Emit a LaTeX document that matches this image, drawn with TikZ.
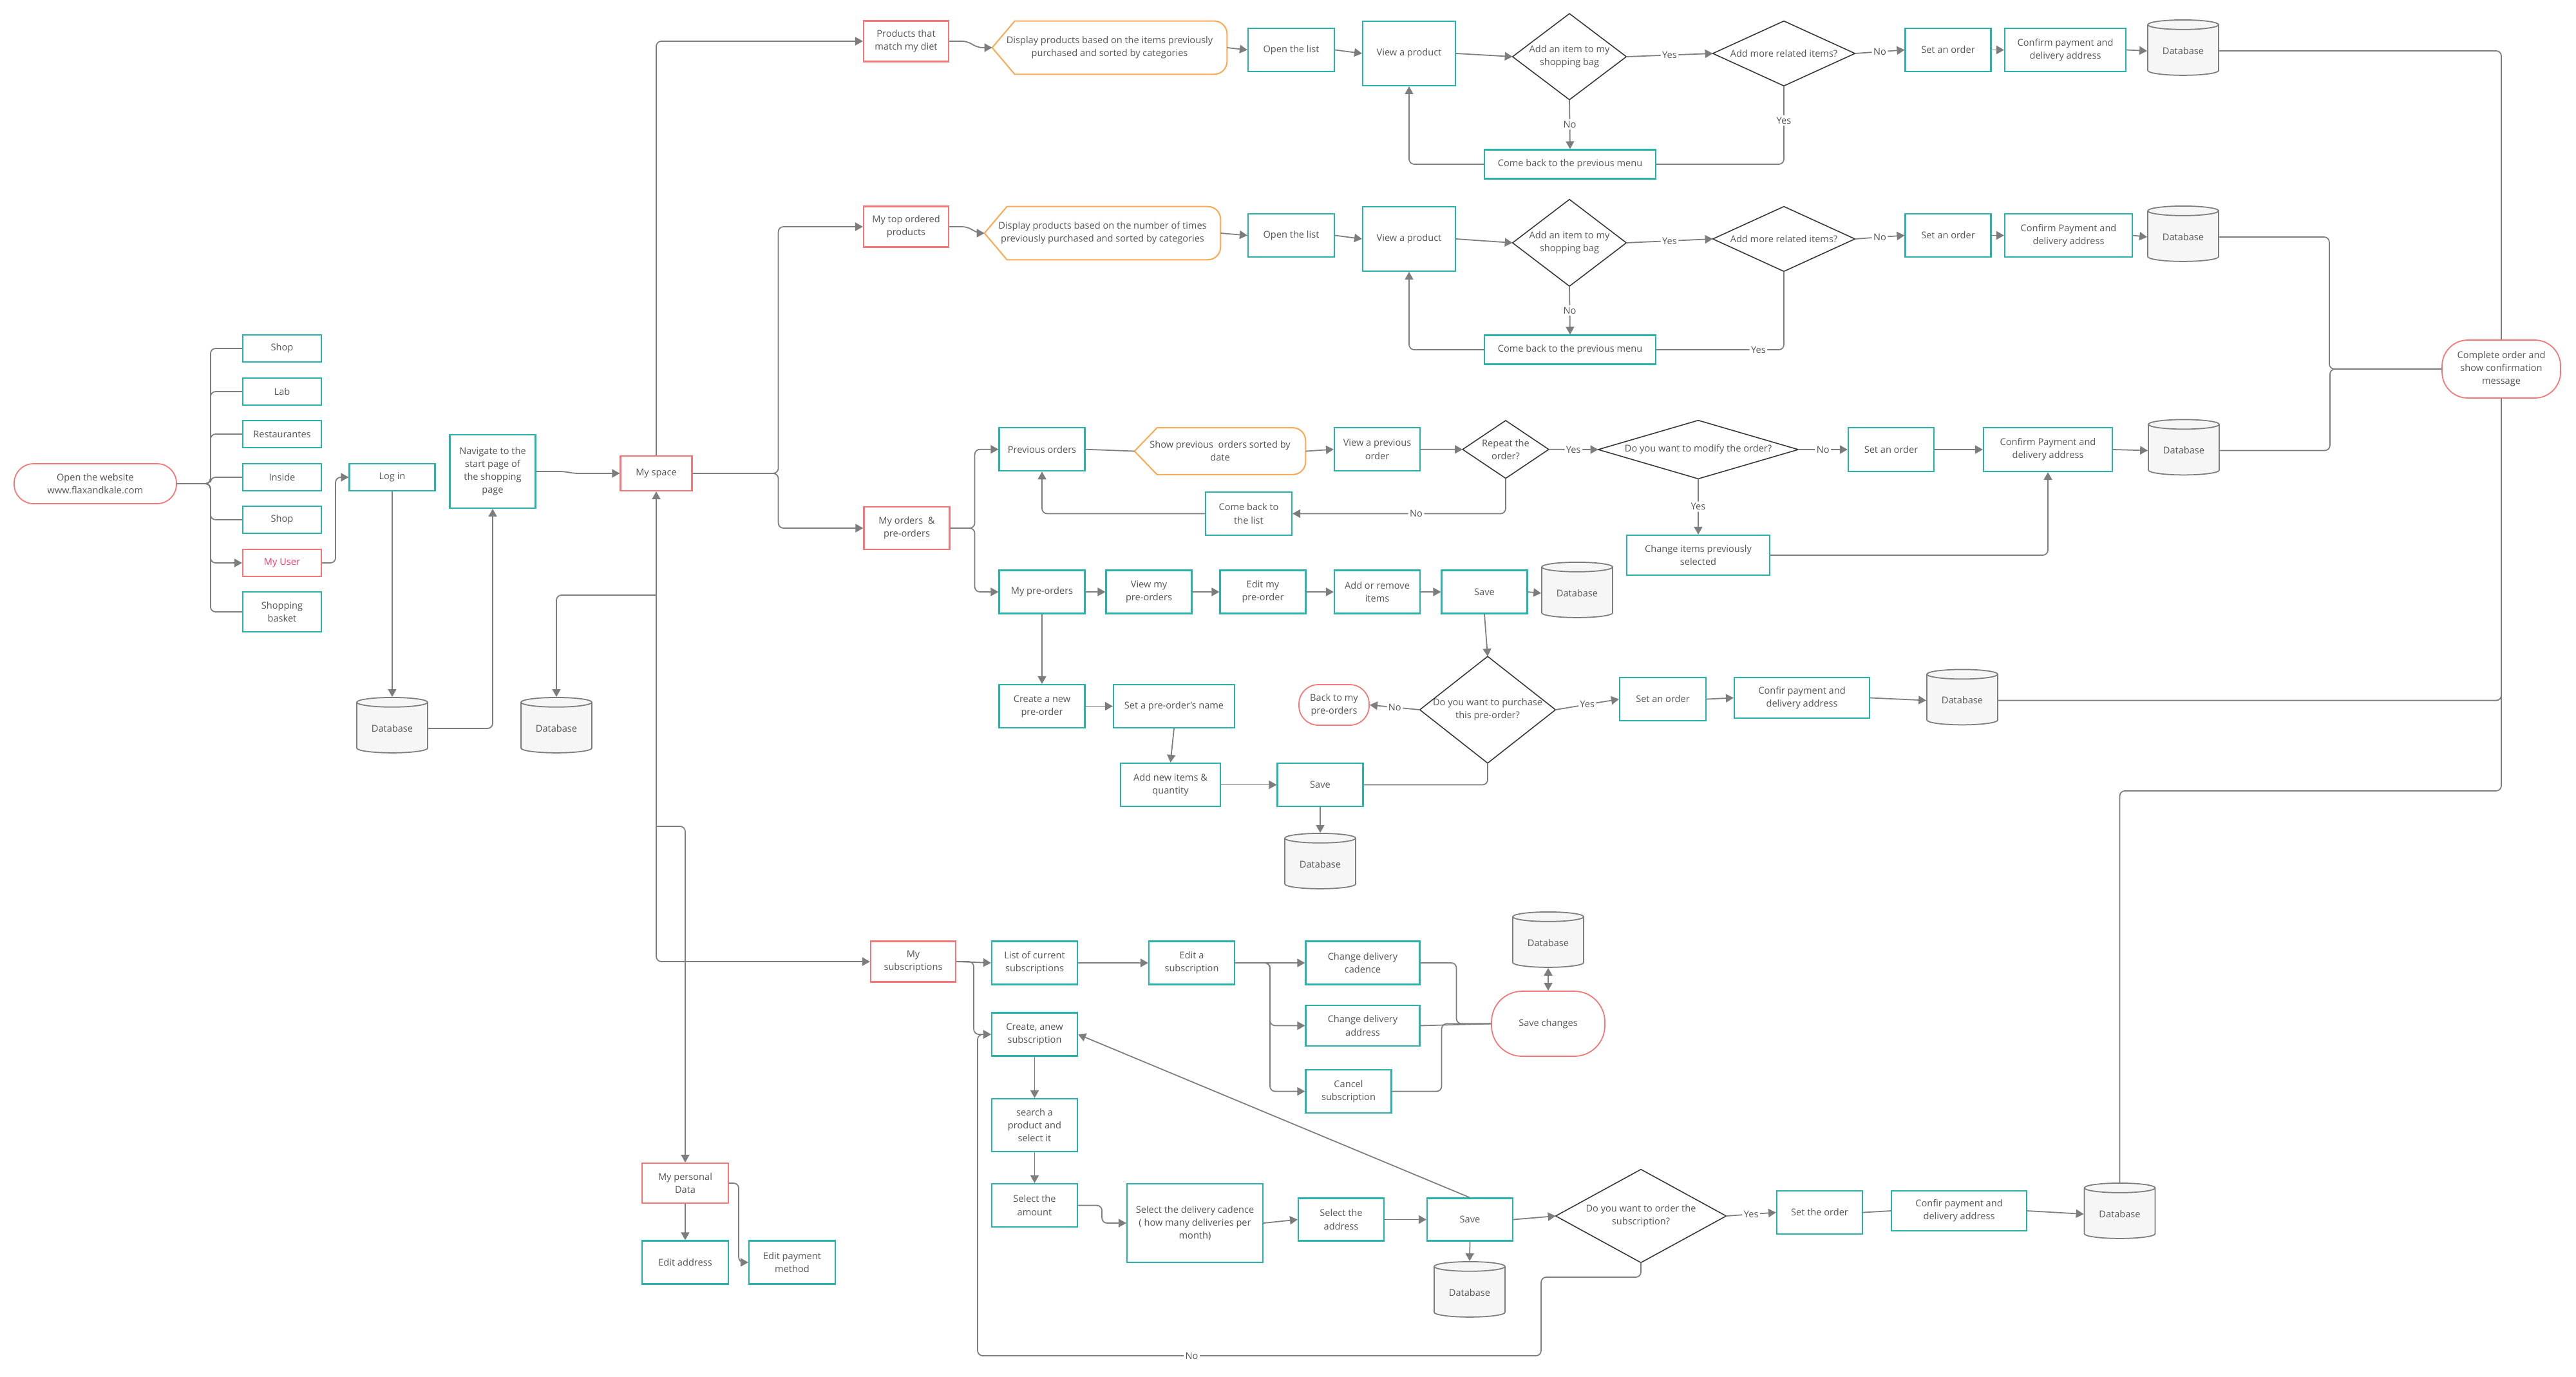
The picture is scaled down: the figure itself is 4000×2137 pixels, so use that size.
\documentclass[tikz,border=0pt]{standalone}
\usepackage{fontspec}
\setmainfont{Open Sans}
\usetikzlibrary{shapes.geometric,arrows.meta}

\definecolor{flteal}{RGB}{41,178,172}
\definecolor{flred}{RGB}{244,118,118}
\definecolor{flpink}{RGB}{240,60,110}
\definecolor{florange}{RGB}{248,172,90}
\definecolor{flgray}{RGB}{125,125,125}
\definecolor{fltext}{RGB}{85,85,85}
\definecolor{fldark}{RGB}{55,55,55}
\definecolor{fldb}{RGB}{246,246,246}

\tikzset{
  wh/.style 2 args={minimum width=#1*0.2mm, minimum height=#2*0.2mm}
}

\begin{document}
\begin{tikzpicture}[
  x=0.2mm, y=-0.2mm,
  >={Triangle[length=2.4mm,width=2.6mm]},
  base/.style={inner sep=1pt, align=center, text=fltext, font=\fontsize{8.3}{11.4}\selectfont},
  box/.style={base, draw=flteal, line width=1.2pt, wh={133}{67}},
  rbox/.style={base, draw=flred, line width=1.2pt},
  term/.style={base, draw=flred, line width=1pt},
  db/.style={base, cylinder, shape border rotate=90, aspect=0.22, draw=flgray, fill=fldb, line width=1pt, wh={110}{86}},
  conn/.style={draw=flgray, line width=1pt, rounded corners=1.6mm},
  arr/.style={conn, ->},
  lbl/.style={base, fill=white, inner sep=1.5pt}
]
  \useasboundingbox[fill=white] (0,0) rectangle (4000,2137);

  % entry and main menu
  \node[term, rounded corners=6mm, wh={252}{62}] (web) at (148,751) {Open the website\\www.flaxandkale.com};
  \node[box, wh={122}{42}] (shopA) at (438,541) {Shop};
  \node[box, wh={122}{42}] (lab) at (438,608) {Lab};
  \node[box, wh={122}{42}] (resto) at (438,674) {Restaurantes};
  \node[box, wh={122}{42}] (inside) at (438,741) {Inside};
  \node[box, wh={122}{42}] (shopB) at (438,807) {Shop};
  \node[rbox, text=flpink, wh={122}{42}] (myuser) at (438,874) {My User};
  \node[box, wh={122}{62}] (basket) at (438,950) {Shopping\\basket};
  \node[box, wh={133}{42}] (login) at (609,741) {Log in};
  \node[db] (dbA) at (609,1131) {Database};
  \node[box, wh={133}{114}] (nav) at (765,732) {Navigate to the\\start page of\\the shopping\\page};
  \node[rbox, wh={111}{54}] (myspace) at (1019,735) {My space};
  \node[db] (dbB) at (864,1131) {Database};

  % products that match my diet
  \node[rbox, wh={132}{63}] (diet) at (1407,64) {Products that\\match my diet};
  \node[base, wh={364}{82}] (disp1) at (1723,74) {Display products based on the items previously\\purchased and sorted by categories};
  \node[box, wh={134}{67}] (open1) at (2005,77.5) {Open the list};
  \node[box, wh={144}{100}] (view1) at (2188,83) {View a product};
  \node[base, wh={176}{133}] (add1) at (2437,88) {Add an item to my\\shopping bag};
  \node[base, wh={220}{100}] (more1) at (2770,83) {Add more related items?};
  \node[box] (set1) at (3025,77.5) {Set an order};
  \node[box, wh={188}{67}] (conf1) at (3207,77.5) {Confirm payment and\\delivery address};
  \node[db] (db1) at (3390,79) {Database};
  \node[box, wh={266}{45}] (back1) at (2438,255) {Come back to the previous menu};

  % my top ordered products
  \node[rbox, wh={132}{63}] (top) at (1407,352) {My top ordered\\products};
  \node[base, wh={366}{82}] (disp2) at (1712,362) {Display products based on the number of times\\previously purchased and sorted by categories};
  \node[box, wh={134}{67}] (open2) at (2005,365.5) {Open the list};
  \node[box, wh={144}{100}] (view2) at (2188,371) {View a product};
  \node[base, wh={176}{134}] (add2) at (2437,377) {Add an item to my\\shopping bag};
  \node[base, wh={220}{100}] (more2) at (2770,371) {Add more related items?};
  \node[box] (set2) at (3025,365.5) {Set an order};
  \node[box, wh={198}{67}] (conf2) at (3212,365.5) {Confirm Payment and\\delivery address};
  \node[db] (db2) at (3390,368) {Database};
  \node[box, wh={266}{45}] (back2) at (2438,543) {Come back to the previous menu};
  \node[term, rounded corners=8mm, wh={184}{90}] (done) at (3884,573) {Complete order and\\show confirmation\\message};

  % my orders and pre-orders
  \node[rbox, wh={133}{66}] (orders) at (1408,820) {My orders~~\&\\pre-orders};
  \node[box] (prev) at (1618,697.7) {Previous orders};
  \node[base, wh={265}{72}] (showprev) at (1894.5,700.5) {Show previous~~orders sorted by\\date};
  \node[box] (viewprev) at (2138.5,697.7) {View a previous\\order};
  \node[base, wh={133}{89}] (repeat) at (2338,697.8) {Repeat the\\order?};
  \node[base, wh={310}{90}] (modify) at (2637,698) {Do you want to modify the order?};
  \node[box, wh={133}{68}] (set3) at (2936.5,698) {Set an order};
  \node[box, wh={200}{68}] (conf3) at (3180,698) {Confirm Payment and\\delivery address};
  \node[db] (db3) at (3391,699.5) {Database};
  \node[box, wh={222}{62}] (change) at (2637,862) {Change items previously\\selected};
  \node[box, wh={134}{67}] (backlist) at (1939,797.5) {Come back to\\the list};

  \node[box] (mypre) at (1618,919) {My pre-orders};
  \node[box] (viewpre) at (1784,919) {View my\\pre-orders};
  \node[box] (editpre) at (1961,919) {Edit my\\pre-order};
  \node[box] (addrem) at (2138.5,919) {Add or remove\\items};
  \node[box] (savepre) at (2305,919) {Save};
  \node[db] (dbpre) at (2449,921) {Database};
  \node[box] (newpre) at (1618,1096.5) {Create a new\\pre-order};
  \node[box, wh={188}{67}] (namepre) at (1823,1096.5) {Set a pre-order's name};
  \node[box, wh={155}{67}] (additems) at (1817.5,1218.5) {Add new items \&\\quantity};
  \node[box] (savenew) at (2050,1218.5) {Save};
  \node[db] (dbnew) at (2050,1342) {Database};
  \node[base, wh={210}{165}] (purchase) at (2310,1102) {Do you want to purchase\\this pre-order?};
  \node[term, rounded corners=6mm, wh={109}{63}] (backpre) at (2071.5,1094.5) {Back to my\\pre-orders};
  \node[box, wh={134}{67}] (set4) at (2582,1085.5) {Set an order};
  \node[box, wh={210}{63}] (conf4) at (2798,1083.5) {Confir payment and\\delivery address};
  \node[db] (db4) at (3047,1087.5) {Database};

  % my subscriptions
  \node[rbox, wh={132}{63}] (subs) at (1418,1493) {My\\subscriptions};
  \node[box] (listsub) at (1606.5,1495) {List of current\\subscriptions};
  \node[box] (editsub) at (1850.5,1495) {Edit a\\subscription};
  \node[box, wh={177}{67}] (cadence) at (2116,1495) {Change delivery\\cadence};
  \node[box, wh={177}{63}] (address) at (2116,1592.5) {Change delivery\\address};
  \node[box] (cancel) at (2094,1694.5) {Cancel\\subscription};
  \node[term, rounded corners=9.5mm, wh={176}{101}] (savech) at (2404,1589.5) {Save changes};
  \node[db] (dbch) at (2404,1464) {Database};
  \node[box] (newsub) at (1606.5,1606) {Create, anew\\subscription};
  \node[box, wh={133}{82}] (search) at (1606.5,1747) {search a\\product and\\select it};
  \node[box] (amount) at (1606.5,1871.5) {Select the\\amount};
  \node[box, wh={211}{122}] (cadsel) at (1855.5,1899) {Select the delivery cadence\\( how many deliveries per\\month)};
  \node[box, wh={133}{66}] (addrsel) at (2082.5,1893.5) {Select the\\address};
  \node[box, wh={133}{66}] (savesub) at (2282.5,1893.5) {Save};
  \node[db] (dbsub) at (2282,2007) {Database};
  \node[base, wh={264}{144}] (ordersub) at (2548,1888) {Do you want to order the\\subscription?};
  \node[box] (setsub) at (2825.5,1882.5) {Set the order};
  \node[box, wh={210}{62}] (confsub) at (3042,1880) {Confir payment and\\delivery address};
  \node[db] (dbfin) at (3291.5,1885) {Database};

  % my personal data
  \node[rbox, wh={134}{62}] (personal) at (1064,1837) {My personal\\Data};
  \node[box, wh={134}{67}] (editaddr) at (1064,1960) {Edit address};
  \node[box, wh={134}{67}] (editpay) at (1230,1960) {Edit payment\\method};

  % outlines of decisions and displays
  \foreach \d in {add1,more1,add2,more2,repeat,modify,purchase,ordersub}
    \draw[fldark, line width=0.9pt] (\d.north) -- (\d.east) -- (\d.south) -- (\d.west) -- cycle;
  \foreach \h in {disp1,disp2,showprev}
    \draw[florange, line width=1.2pt] ([xshift=7mm]\h.north west) -- (\h.west) -- ([xshift=7mm]\h.south west)
      -- ([xshift=-4mm]\h.south east) arc[start angle=270, end angle=360, radius=4mm]
      -- ([yshift=-4mm]\h.north east) arc[start angle=0, end angle=90, radius=4mm] -- cycle;

  \coordinate (jdb) at (1019,924);
  \coordinate (jpers) at (1019,1283);
  \coordinate (noA) at (2393,1983);
  \coordinate (noB) at (1518,2105);

  % website menu
  \draw[conn] (web.east) -- ++(52,0) |- (shopA.west);
  \draw[conn] (web.east) -- ++(52,0) |- (lab.west);
  \draw[conn] (web.east) -- ++(52,0) |- (resto.west);
  \draw[conn] (web.east) -- ++(52,0) |- (inside.west);
  \draw[conn] (web.east) -- ++(52,0) |- (shopB.west);
  \draw[conn] (web.east) -- ++(52,0) |- (basket.west);
  \draw[arr] (web.east) -- ++(52,0) |- (myuser.west);
  \draw[arr] (myuser.east) -- ++(21,0) |- (login.west);
  \draw[arr] (login.south) -- (dbA.north);
  \draw[arr] (dbA.east) -| (nav.south);
  \draw[arr] (nav.east) -- ++(45,0) -- ++(12,3) -- (myspace.west);
  \draw[arr] (myspace.north) |- (diet.west);
  \draw[arr] (myspace.east) -- ++(133,0) |- (top.west);
  \draw[arr] (myspace.east) -- ++(133,0) |- (orders.west);
  \draw[<->, conn] (myspace.south) |- (subs.west);
  \draw[arr] (jdb) -| (dbB.north);
  \draw[arr] (jpers) -| (personal.north);
  \draw[arr] (personal.south) -- (editaddr.north);
  \draw[arr] (personal.east) -- ++(15,0) |- (editpay.west);

  % diet row
  \draw[arr] (diet.east) -- ++(28,0) -- ++(16,10) -- (disp1.west);
  \draw[arr] (disp1.east) -- (open1.west);
  \draw[arr] (open1.east) -- (view1.west);
  \draw[arr] (view1.east) -- (add1.west);
  \draw[arr] (add1.east) -- node[lbl]{Yes} (more1.west);
  \draw[arr] (more1.east) -- node[lbl]{No} (set1.west);
  \draw[arr] (set1.east) -- (conf1.west);
  \draw[arr] (conf1.east) -- (db1.west);
  \draw[arr] (add1.south) -- node[lbl]{No} (back1.north);
  \draw[conn] (more1.south) |- node[lbl,pos=0.22]{Yes} (back1.east);
  \draw[arr] (back1.west) -| (view1.south);
  \draw[conn] (db1.east) -| (done.north);

  % top ordered row
  \draw[arr] (top.east) -- ++(28,0) -- ++(16,10) -- (disp2.west);
  \draw[arr] (disp2.east) -- (open2.west);
  \draw[arr] (open2.east) -- (view2.west);
  \draw[arr] (view2.east) -- (add2.west);
  \draw[arr] (add2.east) -- node[lbl]{Yes} (more2.west);
  \draw[arr] (more2.east) -- node[lbl]{No} (set2.west);
  \draw[arr] (set2.east) -- (conf2.west);
  \draw[arr] (conf2.east) -- (db2.west);
  \draw[arr] (add2.south) -- node[lbl]{No} (back2.north);
  \draw[conn] (more2.south) |- node[lbl,pos=0.6]{Yes} (back2.east);
  \draw[arr] (back2.west) -| (view2.south);
  \draw[conn] (db2.east) -- ++(171,0) |- (done.west);

  % previous orders
  \draw[arr] (orders.east) -- ++(38,0) |- (prev.west);
  \draw[arr] (orders.east) -- ++(38,0) |- (mypre.west);
  \draw[conn] (prev.east) -- (showprev.west);
  \draw[arr] (showprev.east) -- (viewprev.west);
  \draw[arr] (viewprev.east) -- (repeat.west);
  \draw[arr] (repeat.east) -- node[lbl]{Yes} (modify.west);
  \draw[arr] (modify.east) -- node[lbl]{No} (set3.west);
  \draw[arr] (set3.east) -- (conf3.west);
  \draw[arr] (conf3.east) -- (db3.west);
  \draw[arr] (modify.south) -- node[lbl]{Yes} (change.north);
  \draw[arr] (change.east) -| (conf3.south);
  \draw[arr] (repeat.south) |- node[lbl,pos=0.71]{No} (backlist.east);
  \draw[arr] (backlist.west) -| (prev.south);
  \draw[conn] (db3.east) -- ++(171,0) |- (done.west);

  % pre-orders
  \draw[arr] (mypre.east) -- (viewpre.west);
  \draw[arr] (viewpre.east) -- (editpre.west);
  \draw[arr] (editpre.east) -- (addrem.west);
  \draw[arr] (addrem.east) -- (savepre.west);
  \draw[arr] (savepre.east) -- (dbpre.west);
  \draw[arr] (mypre.south) -- (newpre.north);
  \draw[arr] (newpre.east) -- (namepre.west);
  \draw[arr] (namepre.south) -- (additems.north);
  \draw[arr] (additems.east) -- (savenew.west);
  \draw[arr] (savenew.south) -- (dbnew.north);
  \draw[arr] (savepre.south) -- (purchase.north);
  \draw[conn] (purchase.south) |- (savenew.east);
  \draw[arr] (purchase.west) -- node[lbl]{No} (backpre.east);
  \draw[arr] (purchase.east) -- node[lbl]{Yes} (set4.west);
  \draw[arr] (set4.east) -- (conf4.west);
  \draw[arr] (conf4.east) -- (db4.west);
  \draw[conn] (db4.east) -| (done.south);
  \draw[conn] (done.south) -- ++(0,609) -| (dbfin.north);

  % subscriptions
  \draw[arr] (subs.east) -- (listsub.west);
  \draw[arr] (subs.east) -- ++(27,0) |- (newsub.west);
  \draw[arr] (listsub.east) -- (editsub.west);
  \draw[arr] (editsub.east) -- (cadence.west);
  \draw[arr] (editsub.east) -- ++(54,0) |- (address.west);
  \draw[arr] (editsub.east) -- ++(54,0) |- (cancel.west);
  \draw[conn] (cadence.east) -- ++(56,0) |- (savech.west);
  \draw[conn] (address.east) -- (savech.west);
  \draw[conn] (cancel.east) -- ++(77,0) |- (savech.west);
  \draw[<->, conn] (dbch.south) -- (savech.north);
  \draw[arr] (newsub.south) -- (search.north);
  \draw[arr] (search.south) -- (amount.north);
  \draw[arr] (amount.east) -- ++(37,0) |- (cadsel.west);
  \draw[arr] (cadsel.east) -- (addrsel.west);
  \draw[arr] (addrsel.east) -- (savesub.west);
  \draw[arr] (savesub.east) -- (ordersub.west);
  \draw[arr] (savesub.north) -- (newsub.east);
  \draw[arr] (savesub.south) -- (dbsub.north);
  \draw[arr] (ordersub.east) -- node[lbl]{Yes} (setsub.west);
  \draw[conn] (setsub.east) -- (confsub.west);
  \draw[arr] (confsub.east) -- (dbfin.west);
  \draw[arr] (ordersub.south) |- (noA) |- node[lbl,pos=0.81]{No} (noB) |- (newsub.west);
\end{tikzpicture}
\end{document}
